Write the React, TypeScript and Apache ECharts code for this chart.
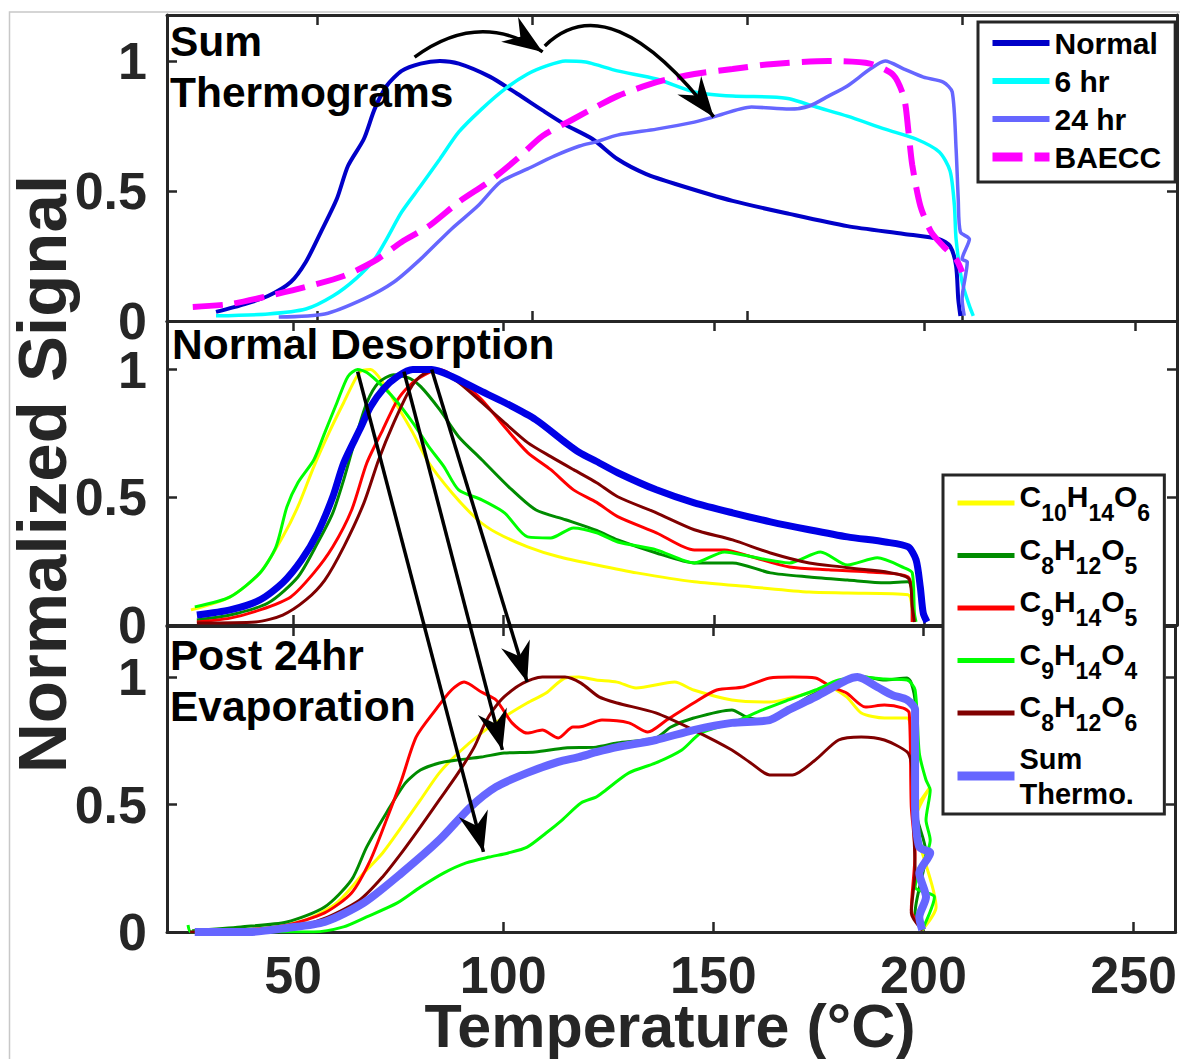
import React, { useEffect, useRef } from 'react';
import * as echarts from 'echarts';

// ---------- Sum thermograms (panel 1): [temperature °C, normalized signal] ----------
const sumNormal = [
  [26.4, 0.035], [33.1, 0.065], [38.5, 0.096], [43.8, 0.15], [47.3, 0.227], [50.8, 0.342],
  [54.5, 0.469], [57.1, 0.596], [60.8, 0.7], [63.3, 0.815], [66.1, 0.904], [69.6, 0.962],
  [74.0, 0.99], [78.5, 1.0], [82.9, 0.99], [90.1, 0.94], [96.4, 0.875], [102.4, 0.81],
  [107.7, 0.755], [114.0, 0.7], [119.8, 0.623], [126.5, 0.565], [133.3, 0.527], [146.6, 0.462],
  [159.8, 0.412], [173.3, 0.365], [186.5, 0.335], [194.7, 0.315], [197.2, 0.288], [198.6, 0.212],
  [199.1, 0.085], [199.6, 0.019],
];
const sum6hr = [
  [26.4, 0.02], [38.5, 0.027], [47.3, 0.046], [53.6, 0.096], [58.9, 0.162], [63.3, 0.238],
  [66.1, 0.315], [69.6, 0.419], [74.0, 0.519], [78.5, 0.623], [82.9, 0.727], [88.2, 0.815],
  [93.6, 0.892], [98.9, 0.95], [103.3, 0.981], [107.7, 1.0], [112.4, 0.996], [115.0, 0.985],
  [119.8, 0.962], [128.9, 0.931], [137.7, 0.881], [146.6, 0.865], [155.4, 0.862], [159.8, 0.855],
  [166.1, 0.823], [173.3, 0.788], [182.1, 0.738], [189.3, 0.7], [194.7, 0.65], [197.2, 0.577],
  [198.2, 0.446], [198.6, 0.315], [200.0, 0.15], [201.7, 0.058], [202.6, 0.02],
];
const sum24hr = [
  [41.0, 0.015], [51.7, 0.027], [60.8, 0.085], [67.8, 0.15], [74.0, 0.238], [81.2, 0.354],
  [87.3, 0.442], [92.6, 0.535], [98.9, 0.585], [105.2, 0.635], [111.0, 0.673], [115.0, 0.69],
  [119.8, 0.715], [128.9, 0.738], [137.7, 0.765], [142.2, 0.785], [151.0, 0.823], [159.8, 0.815],
  [164.5, 0.827], [168.9, 0.865], [173.3, 0.904], [178.6, 0.969], [182.1, 1.0], [186.5, 0.969],
  [191.0, 0.938], [195.6, 0.919], [197.7, 0.881], [198.6, 0.662], [199.1, 0.469], [199.6, 0.342],
  [201.7, 0.315], [200.0, 0.238], [201.2, 0.227], [200.0, 0.085], [200.5, 0.02],
];
const sumBAECC = [
  [21.0, 0.054], [29.6, 0.065], [38.5, 0.096], [47.3, 0.131], [56.1, 0.173], [63.3, 0.231],
  [69.6, 0.304], [75.9, 0.365], [82.9, 0.458], [90.1, 0.538], [96.4, 0.623], [102.4, 0.712],
  [109.6, 0.777], [115.0, 0.825], [119.8, 0.865], [128.9, 0.919], [137.7, 0.95], [146.6, 0.969],
  [155.4, 0.988], [168.9, 1.0], [178.6, 0.99], [184.0, 0.946], [186.5, 0.858], [187.5, 0.731],
  [188.4, 0.6], [190.3, 0.442], [192.8, 0.342], [195.6, 0.288], [198.6, 0.238], [200.0, 0.188],
];

// ---------- Normal desorption (panel 2) ----------
const normC10H14O6 = [
  [25.7, 0.059], [35, 0.11], [42.1, 0.204], [47.5, 0.345], [51.1, 0.463], [54.9, 0.62],
  [58.5, 0.753], [62, 0.871], [65.8, 0.99], [68.4, 1.0], [71.3, 0.949], [74.8, 0.855],
  [78.4, 0.753], [82.2, 0.635], [87.7, 0.518], [93.8, 0.412], [98.3, 0.361], [105.7, 0.306],
  [113.1, 0.267], [122.1, 0.235], [131.6, 0.204], [145.3, 0.169], [158.9, 0.149], [172.6, 0.129],
  [181.7, 0.125], [196.1, 0.118], [197.1, 0.059], [197.4, 0.012],
];
const normC8H12O5 = [
  [27.1, 0.02], [35, 0.039], [44, 0.086], [51.1, 0.188], [55.8, 0.322], [59.4, 0.439],
  [62, 0.569], [64.9, 0.737], [67.5, 0.871], [70.3, 0.949], [73.9, 0.98], [77.7, 0.965],
  [80.3, 0.933], [84.8, 0.843], [89.3, 0.737], [94.8, 0.647], [101.2, 0.541], [107.6, 0.451],
  [114.7, 0.412], [122.1, 0.37], [127.1, 0.333], [136.3, 0.282], [145.3, 0.243], [154.4, 0.243],
  [163.4, 0.204], [172.6, 0.188], [181.7, 0.176], [190.7, 0.165], [196.1, 0.169], [197.1, 0.125],
  [197.1, 0.012],
];
const normC9H14O5 = [
  [27.1, 0.012], [35, 0.027], [42.1, 0.059], [49.4, 0.11], [54.9, 0.204], [59.4, 0.306],
  [63.9, 0.451], [67.5, 0.635], [71.3, 0.765], [74.8, 0.882], [78.4, 0.949], [82.2, 0.988],
  [84.8, 1.0], [89.3, 0.961], [94.8, 0.882], [100.2, 0.776], [105.7, 0.675], [111.2, 0.608],
  [116.6, 0.529], [122.1, 0.48], [127.1, 0.424], [136.3, 0.361], [145.3, 0.294], [152.5, 0.294],
  [158.9, 0.267], [167.9, 0.227], [177.2, 0.216], [186.2, 0.208], [196.1, 0.188], [197.1, 0.086],
  [197.1, 0.012],
];
const normC9H14O4 = [
  [26.6, 0.071], [35, 0.11], [42.1, 0.204], [45.9, 0.306], [48.5, 0.463], [51.1, 0.557],
  [54.9, 0.647], [57.5, 0.753], [60.4, 0.871], [63, 0.973], [65.3, 1.0], [67.5, 0.988],
  [71.3, 0.933], [74.8, 0.871], [78.4, 0.792], [82.2, 0.698], [85.8, 0.62], [89.3, 0.529],
  [94.8, 0.49], [100.2, 0.439], [105.7, 0.345], [111.2, 0.341], [116.6, 0.38], [122.1, 0.361],
  [127.1, 0.325], [136.3, 0.294], [145.3, 0.243], [152.5, 0.286], [158.9, 0.267], [167.9, 0.243],
  [175.3, 0.286], [181.7, 0.235], [188.8, 0.263], [195.2, 0.224], [197.1, 0.204], [197.6, 0.047],
  [198, 0.012],
];
const normC8H12O6 = [
  [27.1, 0.008], [41.1, 0.012], [47.5, 0.039], [53, 0.098], [57.5, 0.176], [62, 0.306],
  [66.8, 0.478], [70.3, 0.647], [73.9, 0.792], [77.7, 0.922], [80.3, 0.975], [83.9, 1.0],
  [89.3, 0.949], [94.8, 0.871], [100.2, 0.792], [105.7, 0.714], [111.2, 0.659], [116.6, 0.608],
  [122.1, 0.557], [127.1, 0.502], [136.3, 0.439], [145.3, 0.373], [154.4, 0.333], [163.4, 0.282],
  [172.6, 0.243], [181.7, 0.224], [196.1, 0.184], [197.1, 0.071], [197.6, 0.012],
];
const normSum = [
  [27.1, 0.039], [35, 0.059], [42.1, 0.098], [47.5, 0.165], [52, 0.255], [55.8, 0.361],
  [59.4, 0.502], [62, 0.635], [65.8, 0.765], [68.4, 0.855], [71.3, 0.922], [74.8, 0.973],
  [78.4, 1.0], [82.9, 1.0], [87.7, 0.973], [93.8, 0.922], [100.2, 0.871], [107.6, 0.804],
  [114.7, 0.714], [118, 0.675], [122.1, 0.64], [127.1, 0.596], [136.3, 0.529], [145.3, 0.478],
  [154.4, 0.439], [163.4, 0.404], [172.6, 0.373], [181.7, 0.345], [190.7, 0.325], [196.1, 0.306],
  [198, 0.255], [199, 0.149], [199.7, 0.047], [200.6, 0.012],
];

// ---------- Post 24 hr evaporation (panel 3) ----------
const evapC10H14O6 = [
  [27.6, 0], [44, 0.016], [53, 0.047], [60.4, 0.114], [66.8, 0.231], [71.3, 0.31],
  [75.8, 0.412], [80.3, 0.518], [84.8, 0.624], [89.3, 0.702], [94.8, 0.78], [100.2, 0.843],
  [105.7, 0.898], [110.2, 0.937], [114.7, 0.996], [118, 1.0], [122.1, 0.988], [127.1, 0.98],
  [131.6, 0.957], [140.8, 0.98], [145.3, 0.949], [154.4, 0.91], [163.4, 0.902], [172.6, 0.937],
  [177.2, 0.961], [181.7, 0.922], [185.2, 0.859], [190.7, 0.839], [196.1, 0.839], [197.1, 0.792],
  [198, 0.49], [201.6, 0.569], [198, 0.439], [203, 0.098], [199.7, 0.008],
];
const evapC8H12O5 = [
  [26, 0.005], [37.6, 0.02], [48.5, 0.039], [57.5, 0.098], [63.9, 0.204], [67.5, 0.333],
  [72.2, 0.467], [76.7, 0.584], [80.3, 0.635], [84.8, 0.663], [89.3, 0.675], [94.8, 0.686],
  [100.2, 0.702], [107.6, 0.706], [114.7, 0.722], [122.1, 0.725], [127.1, 0.741], [136.3, 0.761],
  [139.9, 0.804], [145.3, 0.839], [154.4, 0.871], [157.9, 0.843], [161.7, 0.831], [165.3, 0.843],
  [172.6, 0.922], [181.7, 0.988], [186.2, 1.0], [190.7, 0.988], [196.1, 0.996], [197.1, 0.976],
  [198, 0.898], [198, 0.49], [200.6, 0.31], [198, 0.075], [199.7, 0.008],
];
const evapC9H14O5 = [
  [27, 0], [40, 0.01], [48.5, 0.027], [57.5, 0.075], [63.9, 0.153], [68.4, 0.282], [72.2, 0.439],
  [75.8, 0.596], [79.3, 0.765], [83.9, 0.871], [87.7, 0.949], [90.7, 0.98], [94.8, 0.941],
  [98.3, 0.91], [102.1, 0.82], [105.7, 0.78], [109.3, 0.792], [113.1, 0.761], [116.6, 0.804],
  [118, 0.804], [123.5, 0.831], [129.9, 0.82], [134.4, 0.784], [138.9, 0.831], [145.3, 0.898],
  [150.8, 0.949], [157.2, 0.961], [163.4, 0.996], [168.8, 1.0], [174.3, 0.996], [178.1, 0.961],
  [181.7, 0.937], [186.2, 0.882], [190.7, 0.89], [195.2, 0.878], [196.6, 0.859], [197.1, 0.49],
  [198, 0.31], [197.1, 0.086], [199.7, 0.008],
];
const evapC9H14O4 = [
  [25, 0.027], [25.7, 0], [54.9, 0], [62, 0.02], [67.5, 0.059], [74.8, 0.114], [80.3, 0.176],
  [85.8, 0.231], [91.2, 0.271], [96.7, 0.294], [101.2, 0.31], [105.7, 0.333], [110.2, 0.388],
  [114, 0.439], [118.5, 0.506], [122.1, 0.529], [123.5, 0.545], [129.9, 0.624], [136.3, 0.663],
  [142.5, 0.714], [147, 0.78], [154.4, 0.82], [161.7, 0.871], [167.9, 0.91], [174.3, 0.949],
  [179.8, 0.988], [185.2, 1.0], [190.7, 0.992], [196.1, 0.988], [198, 0.949], [199, 0.702],
  [200.6, 0.596], [201.6, 0.557], [200.6, 0.439], [201.6, 0.361], [198, 0.176], [202.6, 0.137],
  [199.7, 0.008],
];
const evapC8H12O6 = [
  [25.5, 0], [48, 0.01], [57, 0.05], [65.8, 0.125], [71.3, 0.216], [75.8, 0.31], [80.3, 0.412],
  [84.8, 0.518], [89.3, 0.624], [93.1, 0.725], [95.7, 0.82], [97.6, 0.871], [100.2, 0.922],
  [104.7, 0.976], [109.3, 1.0], [114.7, 1.0], [118.5, 0.976], [122.8, 0.922], [127.1, 0.898],
  [136.3, 0.859], [145.3, 0.792], [154.4, 0.714], [158.9, 0.663], [163.4, 0.616], [168.8, 0.616],
  [174.3, 0.675], [179.8, 0.753], [185.2, 0.765], [190.7, 0.753], [196.1, 0.706], [197.1, 0.663],
  [197.6, 0.439], [198, 0.243], [197.1, 0.075], [199.7, 0.008],
];
const evapSum = [
  [26.6, 0], [39.5, 0], [48.5, 0.016], [57.5, 0.039], [66.8, 0.114], [75.8, 0.231], [84.8, 0.361],
  [92.2, 0.49], [98.3, 0.569], [105.7, 0.624], [113.1, 0.667], [118, 0.686], [122.1, 0.705],
  [127.1, 0.725], [136.3, 0.753], [145.3, 0.792], [154.4, 0.82], [163.4, 0.831], [167.9, 0.871],
  [174.3, 0.922], [181.7, 0.988], [184.3, 1.0], [189, 0.961], [192.6, 0.929], [196.1, 0.91],
  [198, 0.871], [198, 0.49], [199, 0.333], [201.6, 0.31], [199, 0.231], [200.6, 0.137],
  [199, 0.059], [199.7, 0.008],
];

// ---------- axes ----------
const xTicksTop = [50, 100, 150, 200];
const xTicksLower = [50, 100, 150, 200, 250];
const yTicks = [0, 0.5, 1];
const sumLegend = ['Normal', '6 hr', '24 hr', 'BAECC'];
const compLegend = ['C10H14O6', 'C8H12O5', 'C9H14O5', 'C9H14O4', 'C8H12O6', 'Sum Thermo.'];

// Arrows: peak shifts in the sum thermograms (panel 1) ...
const curvedArrows = [
  { from: [72.6, 1.015], via: [87.8, 1.2], to: [102.4, 1.035] },
  { from: [102.9, 1.058], via: [118.1, 1.302], to: [142.2, 0.785] },
];
// ... and from normal-desorption peaks (panel 2) to the evaporated curves (panel 3)
const shiftArrows = [
  { from: [65.3, 0.992], to: [95.3, 0.314] },
  { from: [76.3, 0.992], to: [99.8, 0.714] },
  { from: [82.9, 1.0], to: [105.7, 0.98] },
];

const FONT = "'Liberation Sans', Arial, Helvetica, sans-serif";
const INK = '#262626';

const grids = [
  { left: 167, right: 3, top: 15, height: 306 },
  { left: 167, right: 3, top: 321, height: 304 },
  { left: 167, right: 3, top: 626, height: 306 },
];
const xRange = [[15, 250], [20, 260], [20, 260]];
const yMax = [1.177, 1.19, 1.2];

function xAxis(g: number, position: 'top' | 'bottom', labels: boolean) {
  const ticks = g === 0 ? xTicksTop : xTicksLower;
  return {
    type: 'value', gridIndex: g, position, min: xRange[g][0], max: xRange[g][1],
    axisLine: { show: true, onZero: false, lineStyle: { color: INK, width: 3 } },
    axisTick: { show: true, inside: true, length: 10, customValues: ticks, lineStyle: { color: INK, width: 2.5 } },
    axisLabel: {
      show: labels, customValues: ticks, fontSize: 52, fontWeight: 'bold', fontFamily: FONT,
      color: INK, margin: 23, hideOverlap: false, lineHeight: 40,
    },
    splitLine: { show: false },
  };
}
function yAxis(g: number, position: 'left' | 'right', labels: boolean) {
  return {
    type: 'value', gridIndex: g, position, min: 0, max: yMax[g],
    axisLine: { show: true, onZero: false, lineStyle: { color: INK, width: 3 } },
    axisTick: { show: true, inside: true, length: 10, customValues: yTicks, lineStyle: { color: INK, width: 2.5 } },
    axisLabel: {
      show: labels, customValues: yTicks, fontSize: 52, fontWeight: 'bold', fontFamily: FONT,
      color: INK, margin: 20, hideOverlap: false, lineHeight: 40,
    },
    splitLine: { show: false },
  };
}

function line(name: string, data: number[][], color: string, width: number, g: number, type: any = 'solid') {
  return {
    type: 'line', name, data, xAxisIndex: g, yAxisIndex: g, symbol: 'none', showSymbol: false,
    smooth: 0.25, silent: true, lineStyle: { color, width, type, cap: 'butt' }, itemStyle: { color },
  };
}

const formulaLabel = (name: string) =>
  name === 'Sum Thermo.'
    ? '{t|Sum}\n{t|Thermo.}'
    : name.replace(/([A-Z])(\d+)/g, '{m|$1}{s|$2}') + '{sp| }';

export default function App() {
  const ref = useRef<HTMLDivElement>(null);

  useEffect(() => {
    const chart = echarts.init(ref.current!, null, { renderer: 'svg' });

    const option: any = {
      animation: false,
      backgroundColor: '#ffffff',
      grid: grids,
      xAxis: [xAxis(0, 'bottom', false), xAxis(1, 'bottom', false), xAxis(2, 'bottom', true),
        xAxis(0, 'top', false), xAxis(1, 'top', false), xAxis(2, 'top', false)],
      yAxis: [yAxis(0, 'left', true), yAxis(1, 'left', true), yAxis(2, 'left', true),
        yAxis(0, 'right', false), yAxis(1, 'right', false), yAxis(2, 'right', false)],
      legend: [
        {
          data: sumLegend.map((n) => ({ name: n, lineStyle: { width: n === 'BAECC' ? 9 : 6 } })),
          orient: 'vertical', left: 978, top: 22, selectedMode: false,
          padding: [6, 14, 10, 10], itemGap: 8, itemWidth: 57, itemHeight: 14,
          itemStyle: { opacity: 0 },
          backgroundColor: '#ffffff', borderColor: INK, borderWidth: 3,
          textStyle: { fontSize: 30, fontWeight: 'bold', fontFamily: FONT, color: '#000', lineHeight: 30 },
        },
        {
          data: compLegend.map((n) => ({ name: n, lineStyle: { width: n === 'Sum Thermo.' ? 9 : 5 } })),
          orient: 'vertical', left: 943, top: 475, selectedMode: false,
          padding: [6.5, 12, 6, 10], itemGap: 9.5, itemWidth: 57, itemHeight: 14,
          itemStyle: { opacity: 0 },
          backgroundColor: '#ffffff', borderColor: INK, borderWidth: 3,
          formatter: formulaLabel,
          textStyle: {
            fontFamily: FONT, color: '#000',
            rich: {
              m: { fontSize: 30, fontWeight: 'bold', fontFamily: FONT, color: '#000', lineHeight: 23, verticalAlign: 'top' },
              s: { fontSize: 23, fontWeight: 'bold', fontFamily: FONT, color: '#000', lineHeight: 20, verticalAlign: 'bottom' },
              sp: { fontSize: 8, fontFamily: FONT, lineHeight: 43, verticalAlign: 'middle' },
              t: { fontSize: 29, fontWeight: 'bold', fontFamily: FONT, color: '#000', lineHeight: 35 },
            },
          },
        },
      ],
      series: [
        line('Normal', sumNormal, '#0000c8', 4, 0),
        line('6 hr', sum6hr, '#00ffff', 3.5, 0),
        line('24 hr', sum24hr, '#6666ff', 3.5, 0),
        line('BAECC', sumBAECC, '#ff00ff', 6, 0, [30, 12]),

        line('C10H14O6', normC10H14O6, '#ffff00', 3, 1),
        line('C8H12O5', normC8H12O5, '#008c00', 3, 1),
        line('C9H14O5', normC9H14O5, '#ff0000', 3, 1),
        line('C9H14O4', normC9H14O4, '#00ff00', 3, 1),
        line('C8H12O6', normC8H12O6, '#800000', 3, 1),
        line('Sum Thermo. (normal)', normSum, '#0000e6', 7, 1),

        line('C10H14O6', evapC10H14O6, '#ffff00', 3, 2),
        line('C8H12O5', evapC8H12O5, '#008c00', 3, 2),
        line('C9H14O5', evapC9H14O5, '#ff0000', 3, 2),
        line('C9H14O4', evapC9H14O4, '#00ff00', 3, 2),
        line('C8H12O6', evapC8H12O6, '#800000', 3, 2),
        line('Sum Thermo.', evapSum, '#6666ff', 8, 2),
      ],
    };
    chart.setOption(option);

    const toPx = (g: number, p: number[]) =>
      chart.convertToPixel({ xAxisIndex: g, yAxisIndex: g }, p) as number[];

    const head = (tip: number[], from: number[]) => {
      const L = 40, W = 15, N = 27;
      const dx = tip[0] - from[0], dy = tip[1] - from[1];
      const len = Math.hypot(dx, dy) || 1;
      const ux = dx / len, uy = dy / len, nx = -uy, ny = ux;
      return {
        type: 'polygon', z: 100, silent: true,
        shape: {
          points: [
            tip,
            [tip[0] - L * ux + W * nx, tip[1] - L * uy + W * ny],
            [tip[0] - N * ux, tip[1] - N * uy],
            [tip[0] - L * ux - W * nx, tip[1] - L * uy - W * ny],
          ],
        },
        style: { fill: '#000' },
      };
    };

    const arrowEls: any[] = [];
    curvedArrows.forEach((a) => {
      const s = toPx(0, a.from), c = toPx(0, a.via), e = toPx(0, a.to);
      arrowEls.push({
        type: 'bezierCurve', z: 100, silent: true,
        shape: { x1: s[0], y1: s[1], cpx1: c[0], cpy1: c[1], x2: e[0], y2: e[1] },
        style: { stroke: '#000', lineWidth: 3.5, fill: 'none' },
      });
      arrowEls.push(head(e, c));
    });
    shiftArrows.forEach((a) => {
      const s = toPx(1, a.from), e = toPx(2, a.to);
      arrowEls.push({
        type: 'line', z: 100, silent: true,
        shape: { x1: s[0], y1: s[1], x2: e[0], y2: e[1] },
        style: { stroke: '#000', lineWidth: 3.5 },
      });
      arrowEls.push(head(e, s));
    });

    const panelText = (text: string, x: number, y: number) => ({
      type: 'text', x, y, z: 100, silent: true,
      style: {
        text, fontSize: 42.5, fontWeight: 'bold', fontFamily: FONT, fill: '#000',
        align: 'left', verticalAlign: 'top', lineHeight: 51,
      },
    });

    chart.setOption({
      graphic: [
        {
          type: 'rect', z: 0, silent: true,
          shape: { x: 9.5, y: 12, width: 1200, height: 1100 },
          style: { fill: 'none', stroke: '#c8c8c8', lineWidth: 1.5 },
        },
        panelText('Sum\nThermograms', 170, 15.5),
        panelText('Normal Desorption', 172, 318.5),
        panelText('Post 24hr\nEvaporation', 170, 629.5),
        {
          type: 'text', x: 42, y: 474, rotation: Math.PI / 2, z: 100, silent: true,
          style: {
            text: 'Normalized Signal', fontSize: 69, fontWeight: 'bold', fontFamily: FONT,
            fill: INK, align: 'center', verticalAlign: 'middle',
          },
        },
        {
          type: 'text', x: 670, y: 1026, z: 100, silent: true,
          style: {
            text: 'Temperature (°C)', fontSize: 61, fontWeight: 'bold', fontFamily: FONT,
            fill: INK, align: 'center', verticalAlign: 'middle', lineHeight: 48,
          },
        },
        ...arrowEls,
      ],
    });

    return () => chart.dispose();
  }, []);

  return (
    <div
      ref={ref}
      style={{ position: 'fixed', left: 0, top: 0, width: 1180, height: 1059, background: '#ffffff' }}
    />
  );
}
